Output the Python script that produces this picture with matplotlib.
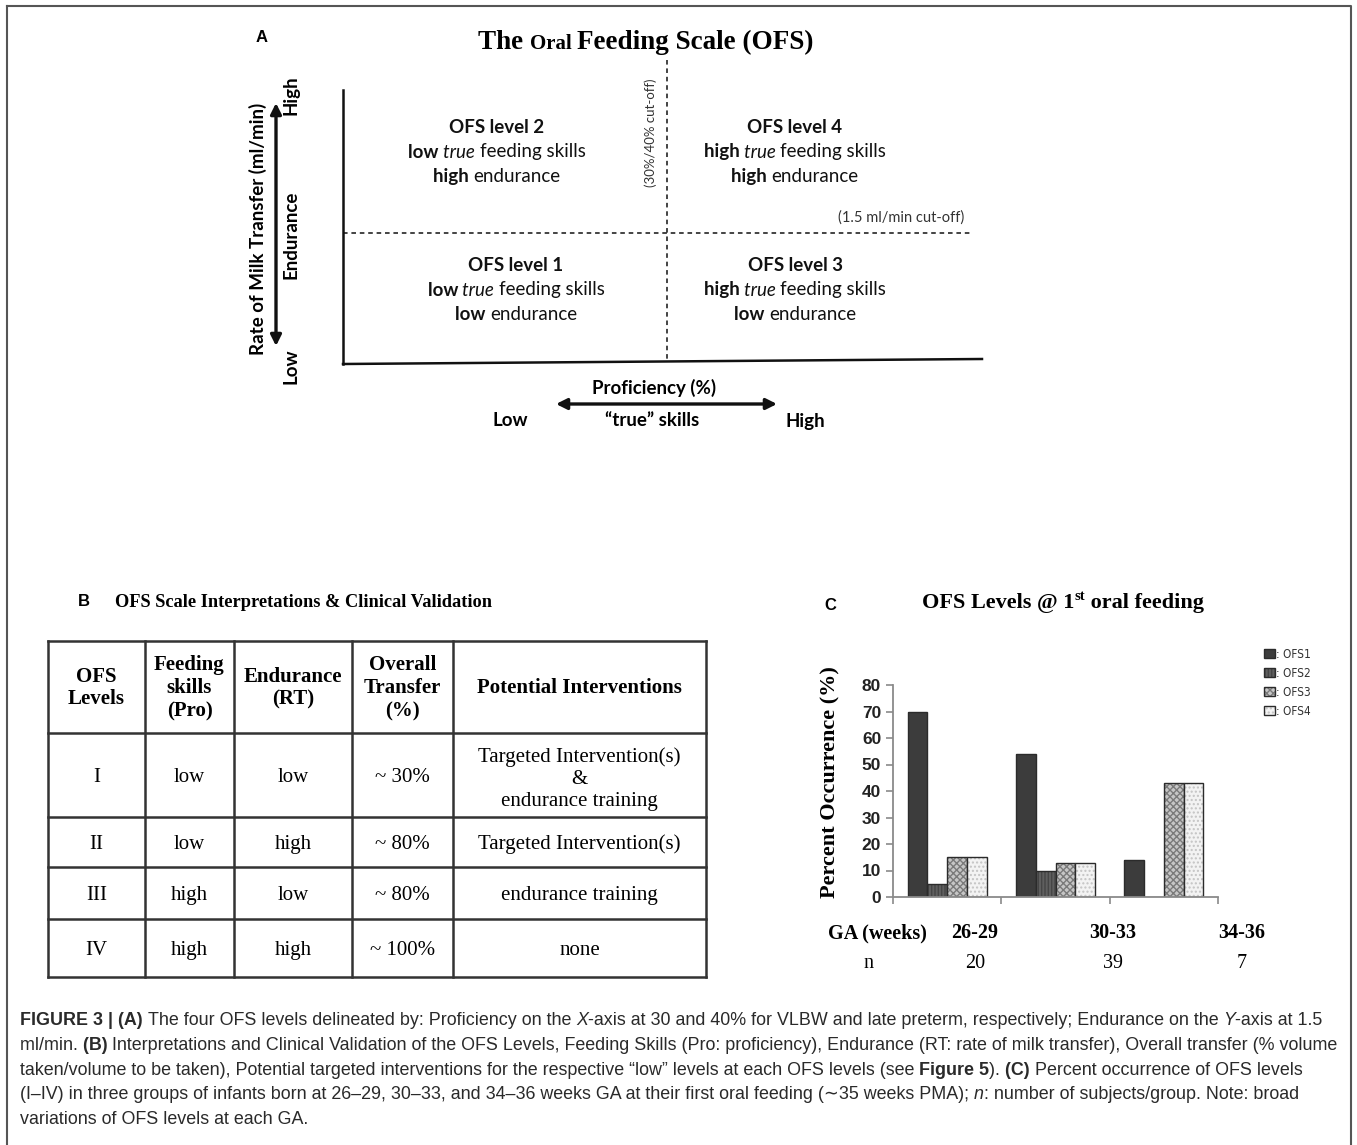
import numpy as np
import matplotlib.pyplot as plt
from matplotlib.legend_handler import HandlerTuple

# --- Donnees du panneau C (pourcentage d'occurrence des niveaux OFS) ---
groupes = ["26-29", "30-33", "34-36"]
effectifs = [20, 39, 7]
niveaux = ["OFS1", "OFS2", "OFS3", "OFS4"]
ofs1 = [70, 54, 14]
ofs2 = [5, 10, 0]
ofs3 = [15, 13, 43]
ofs4 = [15, 13, 43]
yticks = [0, 10, 20, 30, 40, 50, 60, 70, 80]

# --- Donnees du tableau B ---
entetes = ["OFS\nLevels", "Feeding\nskills\n(Pro)", "Endurance\n(RT)",
           "Overall\nTransfer\n(%)", "Potential Interventions"]
col_niveau = ["I", "II", "III", "IV"]
col_skills = ["low", "low", "high", "high"]
col_endurance = ["low", "high", "low", "high"]
col_transfert = ["~ 30%", "~ 80%", "~ 80%", "~ 100%"]
col_interv = ["Targeted Intervention(s)\n&\nendurance training",
              "Targeted Intervention(s)", "endurance training", "none"]

# --- Panneau A : quadrants (titre, competence, endurance) ---
quad_titres = ["OFS level 2", "OFS level 4", "OFS level 1", "OFS level 3"]
quad_skill = ["low", "high", "low", "high"]
quad_endu = ["high", "high", "low", "low"]

W, H = 1357, 1145
fig = plt.figure(figsize=(W / 100, H / 100), dpi=100)
bg = fig.add_axes([0, 0, 1, 1])
bg.set_xlim(0, W)
bg.set_ylim(H, 0)
bg.axis("off")
R = fig.canvas.get_renderer()

SERIF = "Liberation Serif"
SANS = "Liberation Sans"
CALI = "Lato"


def largeur(s, **kw):
    """Largeur en pixels (espaces de fin compris)."""
    t = bg.text(0, 0, s + "|", **kw)
    w1 = t.get_window_extent(R).width
    t.remove()
    t = bg.text(0, 0, "|", **kw)
    w2 = t.get_window_extent(R).width
    t.remove()
    return w1 - w2


def morceaux(x, y, parts, ha="left", **base):
    """Ecrit une ligne faite de morceaux de styles differents sur une meme ligne de base."""
    props = [dict(base, **p) for _, p in parts]
    ws = []
    for (s, _), p in zip(parts, props):
        q = {k: v for k, v in p.items() if k != "dy"}
        ws.append(largeur(s, **q))
    x0 = x - sum(ws) / 2 if ha == "center" else x
    for (s, _), p, w in zip(parts, props, ws):
        q = {k: v for k, v in p.items() if k != "dy"}
        bg.text(x0, y - p.get("dy", 0), s, va="baseline", ha="left", **q)
        x0 += w


# cadre general
bg.plot([7, 1351, 1351, 7, 7], [6, 6, 1160, 1160, 6], color="#555555", lw=1.5)

# ================= Panneau A =================
bg.text(262, 37, "A", family=SANS, fontweight="bold", fontsize=12, ha="center", va="center")
morceaux(646, 49, [("The ", {}), ("Oral ", {"fontsize": 15}), ("Feeding Scale (OFS)", {})],
         ha="center", family=SERIF, fontweight="bold", fontsize=19.5)

bg.plot([343, 343], [90, 364], color="#111111", lw=1.8)
bg.plot([343, 982], [364, 359], color="#111111", lw=1.8)
bg.plot([667, 667], [60, 362], color="#111111", lw=1.1, ls=(0, (3, 2.5)))
bg.plot([343, 972], [233, 233], color="#111111", lw=1.1, ls=(0, (3, 2.5)))

bg.text(651, 133, "(30%/40% cut-off)", rotation=90, family=CALI, fontsize=9.5,
        color="#333333", ha="center", va="center")
bg.text(901, 218, "(1.5 ml/min cut-off)", family=CALI, fontsize=10.5,
        color="#333333", ha="center", va="center")

quad_x = [497, 795, 516, 795]
quad_y = [133, 133, 271, 271]
for i in range(4):
    kw = dict(family=CALI, fontsize=13.5, color="#111111")
    morceaux(quad_x[i], quad_y[i], [(quad_titres[i], {"fontweight": "bold"})], ha="center", **kw)
    morceaux(quad_x[i], quad_y[i] + 24.5,
             [(quad_skill[i] + " ", {"fontweight": "bold"}), ("true ", {"style": "italic"}),
              ("feeding skills", {})], ha="center", **kw)
    morceaux(quad_x[i], quad_y[i] + 49,
             [(quad_endu[i] + " ", {"fontweight": "bold"}), ("endurance", {})], ha="center", **kw)

bg.text(258, 229, "Rate of Milk Transfer (ml/min)", rotation=90, family=CALI,
        fontweight="bold", fontsize=13.5, ha="center", va="center")
for txt, yy in [("High", 95), ("Endurance", 235), ("Low", 366)]:
    bg.text(291, yy, txt, rotation=90, family=CALI, fontweight="bold", fontsize=13.5,
            ha="center", va="center")
bg.annotate("", xy=(276, 103), xytext=(276, 346),
            arrowprops=dict(arrowstyle="<|-|>", lw=2.4, color="#111111", mutation_scale=16,
                            shrinkA=0, shrinkB=0))
bg.annotate("", xy=(556, 404), xytext=(777, 404),
            arrowprops=dict(arrowstyle="<|-|>", lw=2.4, color="#111111", mutation_scale=16,
                            shrinkA=0, shrinkB=0))
bg.text(654, 388, "Proficiency (%)", family=CALI, fontweight="bold", fontsize=13.5,
        ha="center", va="center")
for txt, xx in [("Low", 510), ("\u201ctrue\u201d skills", 652), ("High", 805)]:
    bg.text(xx, 421, txt, family=CALI, fontweight="bold", fontsize=13.5, ha="center", va="center")

# ================= Panneau B =================
bg.text(84, 602, "B", family=SANS, fontweight="bold", fontsize=12, ha="center", va="center")
bg.text(115, 607, "OFS Scale Interpretations & Clinical Validation", family=SERIF,
        fontweight="bold", fontsize=13.2, ha="left", va="baseline")

col_bords = [48, 145, 234, 352, 453, 706]
lig_bords = [641, 733, 817, 867, 919, 977]
for xx in col_bords:
    bg.plot([xx, xx], [lig_bords[0], lig_bords[-1]], color="#333333", lw=1.8)
for yy in lig_bords:
    bg.plot([col_bords[0], col_bords[-1]], [yy, yy], color="#333333", lw=1.8)

centres = [(a + b) / 2 for a, b in zip(col_bords[:-1], col_bords[1:])]
for j, txt in enumerate(entetes):
    bg.text(centres[j], 688, txt, family=SERIF, fontweight="bold", fontsize=15,
            ha="center", va="center", linespacing=1.2, multialignment="center")
colonnes = [col_niveau, col_skills, col_endurance, col_transfert, col_interv]
for i in range(4):
    yc = (lig_bords[i + 1] + lig_bords[i + 2]) / 2
    for j, col in enumerate(colonnes):
        bg.text(centres[j], yc, col[i], family=SERIF, fontsize=15, ha="center",
                va="center_baseline", linespacing=1.2, multialignment="center")

# ================= Panneau C =================
bg.text(830, 606, "C", family=SANS, fontweight="bold", fontsize=12, ha="center", va="center")
morceaux(1063, 608, [("OFS Levels @ 1", {}), ("st", {"fontsize": 10.5, "dy": 8}),
                     (" oral feeding", {})],
         ha="center", family=SERIF, fontweight="bold", fontsize=16)

ax = fig.add_axes([893 / W, (H - 897) / H, 325 / W, 212 / H])
ax.patch.set_alpha(0)
x = np.arange(len(groupes))
largeur_barre = 0.183
decal = (np.arange(4) - 1.5) * largeur_barre
series = [ofs1, ofs2, ofs3, ofs4]
faces = ["#3c3c3c", "#5f5f5f", "#c6c6c6", "#f3f3f3"]
hachures = [None, "|||||", "xxxxx", "...."]
couleurs_hach = ["#3c3c3c", "#454545", "#7a7a7a", "#c4c4c4"]
poignees = []
for k in range(4):
    h = ax.bar(x + decal[k], series[k], largeur_barre, color=faces[k], hatch=hachures[k],
               edgecolor=couleurs_hach[k], linewidth=0)
    o = ax.bar(x + decal[k], series[k], largeur_barre, facecolor="none",
               edgecolor="#2b2b2b", linewidth=1.0)
    poignees.append((h, o))

ax.set_xlim(-0.5, len(groupes) - 0.5)
ax.set_ylim(0, 80)
ax.set_yticks(yticks)
ax.set_xticks(np.arange(len(groupes) + 1) - 0.5)
ax.set_xticklabels([])
for s in ["top", "right"]:
    ax.spines[s].set_visible(False)
for s in ["left", "bottom"]:
    ax.spines[s].set_color("#8a8a8a")
    ax.spines[s].set_linewidth(1.3)
ax.tick_params(axis="both", direction="out", length=5, width=1.2, color="#8a8a8a")
for lab in ax.get_yticklabels():
    lab.set_fontfamily(SANS)
    lab.set_fontweight("bold")
    lab.set_fontsize(12.5)
    lab.set_color("#222222")
ax.set_ylabel("Percent Occurrence (%)", family=SERIF, fontweight="bold", fontsize=16)
ax.yaxis.set_label_coords(-0.163, 0.54)

leg = ax.legend(poignees, [": " + n for n in niveaux], handler_map={tuple: HandlerTuple(ndivide=1)},
                loc="upper left", bbox_to_anchor=(1258 / W, 1 - 642 / H),
                bbox_transform=fig.transFigure, frameon=False,
                handlelength=0.9, handleheight=0.8, handletextpad=0.15, labelspacing=0.5,
                borderpad=0, prop={"family": "DejaVu Sans", "stretch": "condensed", "size": 8.5})
for t in leg.get_texts():
    t.set_color("#333333")

bg.text(877, 933, "GA (weeks)", family=SERIF, fontweight="bold", fontsize=14.5, ha="center", va="center")
bg.text(868, 963, "n", family=SERIF, fontsize=14.5, ha="center", va="center")
x_groupes = [975, 1113, 1242]
for g, nn, xx in zip(groupes, effectifs, x_groupes):
    bg.text(xx, 933, g, family=SERIF, fontweight="bold", fontsize=14.5, ha="center", va="center")
    bg.text(xx, 963, str(nn), family=SERIF, fontsize=14.5, ha="center", va="center")

# ================= Legende de la figure =================
b = {"fontweight": "bold"}
it = {"style": "italic"}
r = {}
lignes = [
    [("FIGURE 3 | (A) ", b), ("The four OFS levels delineated by: Proficiency on the ", r), ("X", it),
     ("-axis at 30 and 40% for VLBW and late preterm, respectively; Endurance on the ", r), ("Y", it),
     ("-axis at 1.5", r)],
    [("ml/min. ", r), ("(B) ", b),
     ("Interpretations and Clinical Validation of the OFS Levels, Feeding Skills (Pro: proficiency), "
      "Endurance (RT: rate of milk transfer), Overall transfer (% volume", r)],
    [("taken/volume to be taken), Potential targeted interventions for the respective \u201clow\u201d "
      "levels at each OFS levels (see ", r), ("Figure 5", b), ("). ", r), ("(C) ", b),
     ("Percent occurrence of OFS levels", r)],
    [("(I\u2013IV) in three groups of infants born at 26\u201329, 30\u201333, and 34\u201336 weeks GA at "
      "their first oral feeding (\u223c35 weeks PMA); ", r), ("n", it),
     (": number of subjects/group. Note: broad", r)],
    [("variations of OFS levels at each GA.", r)],
]
for i, parts in enumerate(lignes):
    morceaux(20, 1025 + i * 24.8, parts, family=[SANS, "DejaVu Sans"], fontsize=12.9, color="#2a2a2a")

fig.savefig("out.png", dpi=100)
